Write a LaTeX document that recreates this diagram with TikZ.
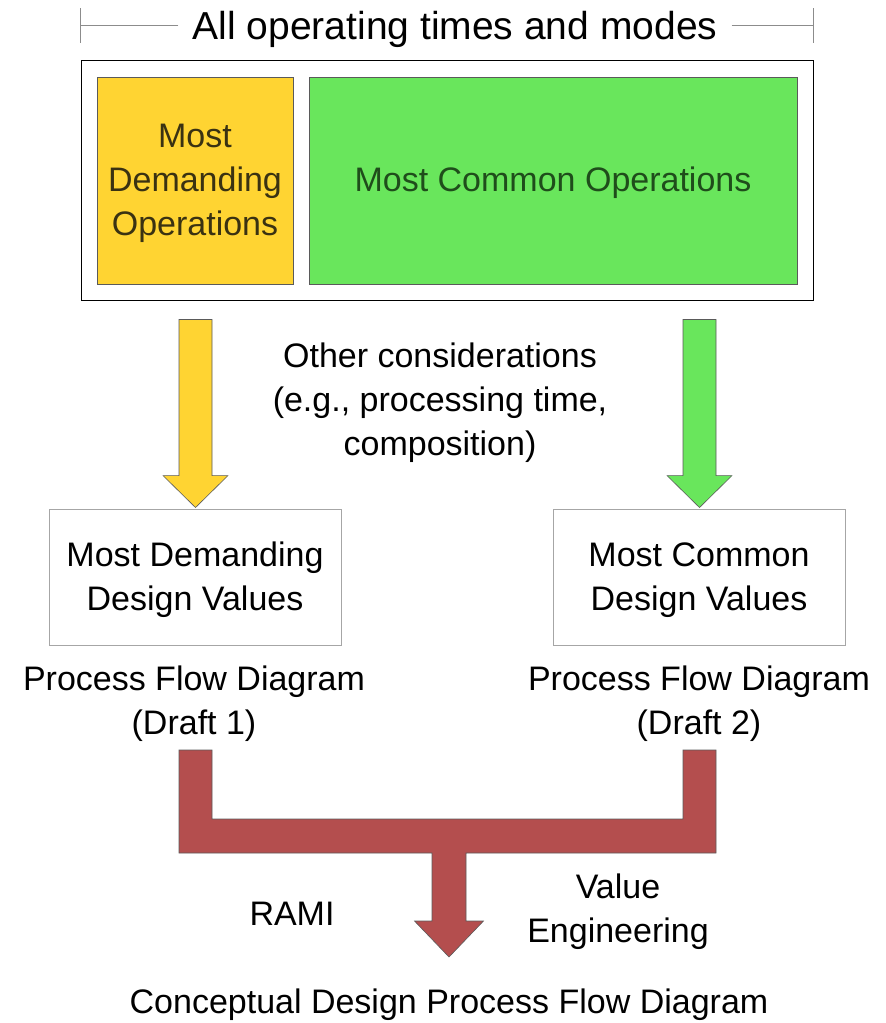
\documentclass[tikz,border=0pt]{standalone}
\usepackage{fontspec}
\setmainfont{Liberation Sans}
\usepackage{tikz}
\usetikzlibrary{positioning,calc}

\definecolor{opyellow}{HTML}{FFD432}
\definecolor{opgreen}{HTML}{69E65C}
\definecolor{pfdred}{HTML}{B44E4E}
\definecolor{edgegray}{HTML}{5A5A5A}
\definecolor{yellowtext}{HTML}{3A3212}
\definecolor{greentext}{HTML}{1F4D1B}

\tikzset{
  txt/.style={align=center, inner sep=0pt, font=\fontsize{34}{44}\selectfont},
  opbox/.style={draw=edgegray, line width=0.8pt, inner sep=0pt},
  valbox/.style={draw=black!35, line width=0.9pt, inner sep=0pt,
    minimum width=292pt, minimum height=136pt},
  dimline/.style={draw=black!45, line width=0.8pt},
  blockarrow/.style={draw=edgegray, line width=0.6pt, line join=miter},
}

% block arrow pointing down: #1 = top centre, #2 = tip, #3 = fill
\newcommand\downblock[3]{%
  \path[blockarrow, fill=#3] let \p1=(#1), \p2=(#2) in
    (\x1-16.5pt,\y1) -- (\x1+16.5pt,\y1) -- (\x1+16.5pt,\y2+32pt)
    -- (\x1+32.5pt,\y2+32pt) -- (\x1,\y2) -- (\x1-32.5pt,\y2+32pt)
    -- (\x1-16.5pt,\y2+32pt) -- cycle;
}

\begin{document}
\begin{tikzpicture}[x=1pt, y=-1pt]
\useasboundingbox (0,0) rectangle (886,1023);

% operating window
\node[draw=black, line width=1pt, minimum width=732pt, minimum height=240pt,
  inner sep=0pt] (outer) at (447,180) {};
\node[opbox, fill=opyellow, minimum width=196pt, minimum height=207pt] (mostdem)
  at (195,180.5) {};
\node[txt, text=yellowtext] at ($(mostdem)+(0,3)$) {Most\\Demanding\\Operations};
\node[opbox, fill=opgreen, minimum width=488pt, minimum height=207pt] (mostcom)
  at (553,180.5) {};
\node[txt, text=greentext] at ($(mostcom)+(0,2)$) {Most Common Operations};

% dimension line over the window
\node[txt, font=\fontsize{39}{45}\selectfont, inner xsep=14pt] (title) at (455,29)
  {All operating times and modes};
\draw[dimline] (title.west |- 0,25) -- (outer.west |- 0,25);
\draw[dimline] (title.east |- 0,25) -- (outer.east |- 0,25);
\draw[dimline] (outer.west |- 0,8) -- (outer.west |- 0,43);
\draw[dimline] (outer.east |- 0,8) -- (outer.east |- 0,43);

% design values
\node[valbox] (demval) at (195,577) {};
\node[txt] at ($(demval)+(0,3)$) {Most Demanding\\Design Values};
\node[valbox] (comval) at (699,577) {};
\node[txt] at ($(comval)+(0,3)$) {Most Common\\Design Values};

\node[txt] (other) at (440,403)
  {Other considerations\\(e.g., processing time,\\composition)};

% yellow and green arrows
\coordinate (ytop) at ($(demval.north |- outer.south)+(0.5,19)$);
\coordinate (gtop) at ($(comval.north |- outer.south)+(0.5,19)$);
\downblock{ytop}{$(demval.north)+(0.5,-1)$}{opyellow}
\downblock{gtop}{$(comval.north)+(0.5,-1)$}{opgreen}

% drafts
\node[txt] (pfd1) at (194,704) {Process Flow Diagram\\(Draft 1)};
\node[txt] (pfd2) at (699,704) {Process Flow Diagram\\(Draft 2)};

\node[txt] (concept) at (449,1005) {Conceptual Design Process Flow Diagram};
\node[txt] (rami) at (292,914) {RAMI};
\node[txt] (valeng) at (618,912) {Value\\Engineering};

% merging arrow into the conceptual design
\coordinate (lin) at (195.5,750);
\coordinate (rin) at (699.5,750);
\coordinate (tip) at (449,957);
\path[blockarrow, fill=pfdred] let \p1=(lin), \p2=(rin), \p3=(tip) in
  (\x1-16.5pt,\y1) -- (\x1+16.5pt,\y1) -- (\x1+16.5pt,\y1-69pt)
  -- (\x2-16.5pt,\y1-69pt) -- (\x2-16.5pt,\y1) -- (\x2+16.5pt,\y1)
  -- (\x2+16.5pt,\y1-103pt) -- (\x3+17pt,\y1-103pt) -- (\x3+17pt,\y3+36pt)
  -- (\x3+34.5pt,\y3+36pt) -- (\x3,\y3) -- (\x3-34.5pt,\y3+36pt)
  -- (\x3-17pt,\y3+36pt) -- (\x3-17pt,\y1-103pt) -- (\x1-16.5pt,\y1-103pt)
  -- cycle;
\end{tikzpicture}
\end{document}
